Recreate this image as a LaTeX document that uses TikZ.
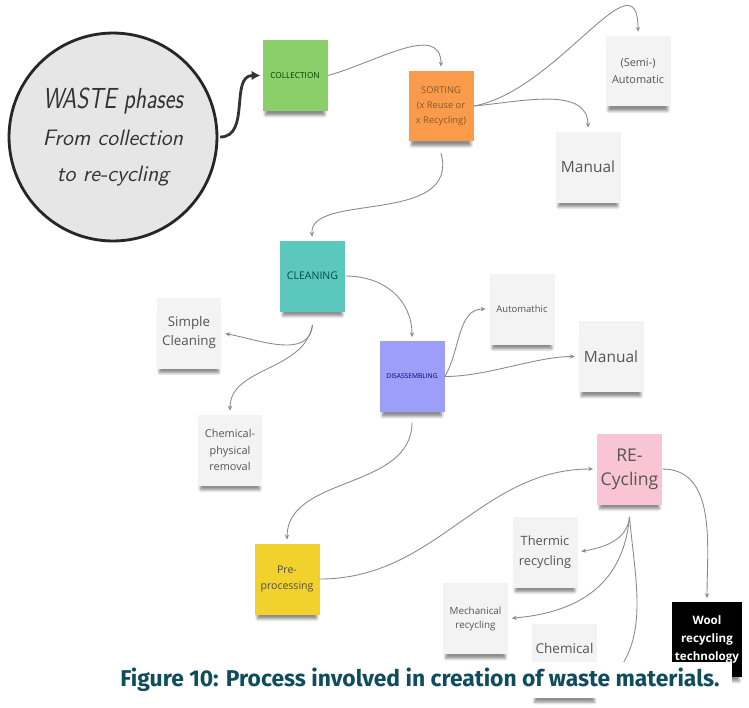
\documentclass[tikz,border=0pt]{standalone}
\usepackage{fontspec}
\usepackage{graphicx}
\usetikzlibrary{arrows.meta,calc,shadows.blur}

\newfontfamily\notefont{Open Sans}
\newfontfamily\capfont{Fira Sans}

\definecolor{wastegray}{HTML}{E6E6E6}
\definecolor{notegray}{HTML}{F3F3F4}
\definecolor{notetext}{HTML}{555555}
\definecolor{linkgray}{HTML}{8A8A8A}
\definecolor{collgreen}{HTML}{8BCF6A}
\definecolor{sortorange}{HTML}{FA9A4B}
\definecolor{cleanteal}{HTML}{5CC7BD}
\definecolor{disaslilac}{HTML}{9D9EF7}
\definecolor{recycpink}{HTML}{F9C5D5}
\definecolor{preyellow}{HTML}{F3D12C}
\definecolor{captionteal}{HTML}{0F4C5C}

\begin{document}
\begin{tikzpicture}[x=0.02cm,y=-0.02cm,
    note/.style={rectangle,minimum width=1.3cm,minimum height=1.42cm,
      inner sep=1pt,align=center,fill=notegray,text=notetext,
      blur shadow={shadow xshift=0pt,shadow yshift=-4.5pt,shadow scale=0.92,
        shadow opacity=45,shadow blur radius=1.6pt}},
    link/.style={draw=linkgray,line width=0.5pt,shorten >=2pt,
      -{Stealth[length=2.8pt,width=2.4pt]}},
    bigarrow/.style={draw=black!80,line width=1.6pt,shorten <=1pt,shorten >=1pt,
      -{Latex[length=5pt,width=5.5pt]}}]
    \useasboundingbox (0,0) rectangle (749,707);

    \node[circle,draw=black!85,line width=1.6pt,fill=wastegray,minimum size=4.16cm,
      inner sep=0pt,align=center,text=black!80,
      font=\sffamily\itshape\fontsize{12.7}{20.5}\selectfont] (waste) at (113,137)
      {\scalebox{0.8}[1]{\fontsize{16.5}{20.5}\selectfont WASTE phases}\\
       From collection\\ to re-cycling};

    % main phases
    \node[note,fill=collgreen,text=green!25!black,
      font=\notefont\fontsize{4.7}{7}\selectfont] (coll) at (295,75.5) {COLLECTION};
    \node[note,fill=sortorange,text=brown!70!black,
      font=\notefont\fontsize{5.3}{8.5}\selectfont] (sort) at (441,106)
      {SORTING\\(x Reuse or\\x Recycling)};
    \node[note,fill=cleanteal,text=teal!60!black,
      font=\notefont\fontsize{6}{8}\selectfont] (clean) at (312.5,276) {CLEANING};
    \node[note,fill=disaslilac,text=blue!45!black,
      font=\notefont\fontsize{3.8}{5}\selectfont] (disas) at (412,376.5) {DISASSEMBLING};
    \node[note,fill=preyellow,text=black!70,
      font=\notefont\fontsize{6}{9}\selectfont] (pre) at (287,579) {Pre-\\processing};
    \node[note,fill=recycpink,font=\notefont\fontsize{10}{13.5}\selectfont]
      (recyc) at (629.5,469) {RE-\\Cycling};

    % sub steps
    \node[note,font=\notefont\fontsize{6.2}{9.5}\selectfont] (semi) at (638,71)
      {(Semi-)\\Automatic};
    \node[note,font=\notefont\fontsize{8.8}{12}\selectfont] (man1) at (588,167) {Manual};
    \node[note,font=\notefont\fontsize{7.6}{10.8}\selectfont] (simple) at (189,333)
      {Simple\\Cleaning};
    \node[note,font=\notefont\fontsize{6.2}{9.6}\selectfont] (chemphys) at (230,450)
      {Chemical-\\physical\\removal};
    \node[note,font=\notefont\fontsize{5.4}{6}\selectfont] (auto) at (522,309) {Automathic};
    \node[note,font=\notefont\fontsize{8.8}{12}\selectfont] (man2) at (611,356.5) {Manual};
    \node[note,font=\notefont\fontsize{7.3}{11.3}\selectfont] (thermic) at (545,552)
      {Thermic\\recycling};
    \node[note,font=\notefont\fontsize{5.6}{8}\selectfont] (mech) at (475.5,618.5)
      {Mechanical\\recycling};
    \node[note,minimum height=1.48cm,font=\notefont\fontsize{7.7}{12.5}\selectfont]
      (chemrec) at (564.5,661) {Chemical\\recycling};
    \node[note,fill=black,text=white,minimum width=1.4cm,minimum height=1.5cm,
      font=\notefont\bfseries\fontsize{6.6}{10}\selectfont] (wool) at (707,639.5)
      {Wool\\recycling\\technology};

    % exits under the notes
    \coordinate (sortfoot) at ($(sort.south)+(0,11)$);
    \coordinate (cleanfoot) at ($(clean.south)+(0,13)$);
    \coordinate (disasfoot) at ($(disas.south)+(0,10)$);
    \coordinate (recycfoot) at ($(recyc.south)+(0,12)$);
    \coordinate (chemin) at ($(chemrec.east)+(2,28)$);

    \draw[bigarrow] (waste.east) to[out=0,in=180,looseness=1.1] (coll.west);

    \draw[link] (coll.east) to[out=15,in=90,looseness=1.1] (sort.north);
    \draw[link] (sort.east) to[out=10,in=90,looseness=1.2] (semi.north);
    \draw[link] (sort.east) to[out=5,in=90] (man1.north);
    \draw[link] (sortfoot) to[out=-75,in=95,out looseness=1.25,in looseness=0.8] (clean.north);

    \draw[link] (clean.east) to[out=0,in=90,looseness=1.1] (disas.north);
    \draw[link] (cleanfoot) to[out=-95,in=-10] (simple.east);
    \draw[link] (cleanfoot) to[out=-100,in=90] (chemphys.north);

    \draw[link] (disas.east) to[out=60,in=180] (auto.west);
    \draw[link] (disas.east) to[out=0,in=180,looseness=0.8] (man2.west);
    \draw[link] (disasfoot) to[out=-90,in=90] (pre.north);

    \draw[link] (pre.east) to[out=0,in=180] (recyc.west);
    \draw[link] (recyc.east) to[out=0,in=90] (wool.north);
    \draw[link] (recycfoot) to[out=-95,in=10] (thermic.east);
    \draw[link] (recycfoot) to[out=-95,in=5,out looseness=1.2] (mech.east);
    \draw[link] (recycfoot) to[out=-85,in=40] (chemin);

    % caption strip laid over the bottom row
    \fill[white] (100,662) rectangle (732,698);
    \node[font=\capfont\bfseries\fontsize{13}{15}\selectfont,text=captionteal]
      (caption) at (420,680) {Figure 10: Process involved in creation of waste materials.};
\end{tikzpicture}
\end{document}
